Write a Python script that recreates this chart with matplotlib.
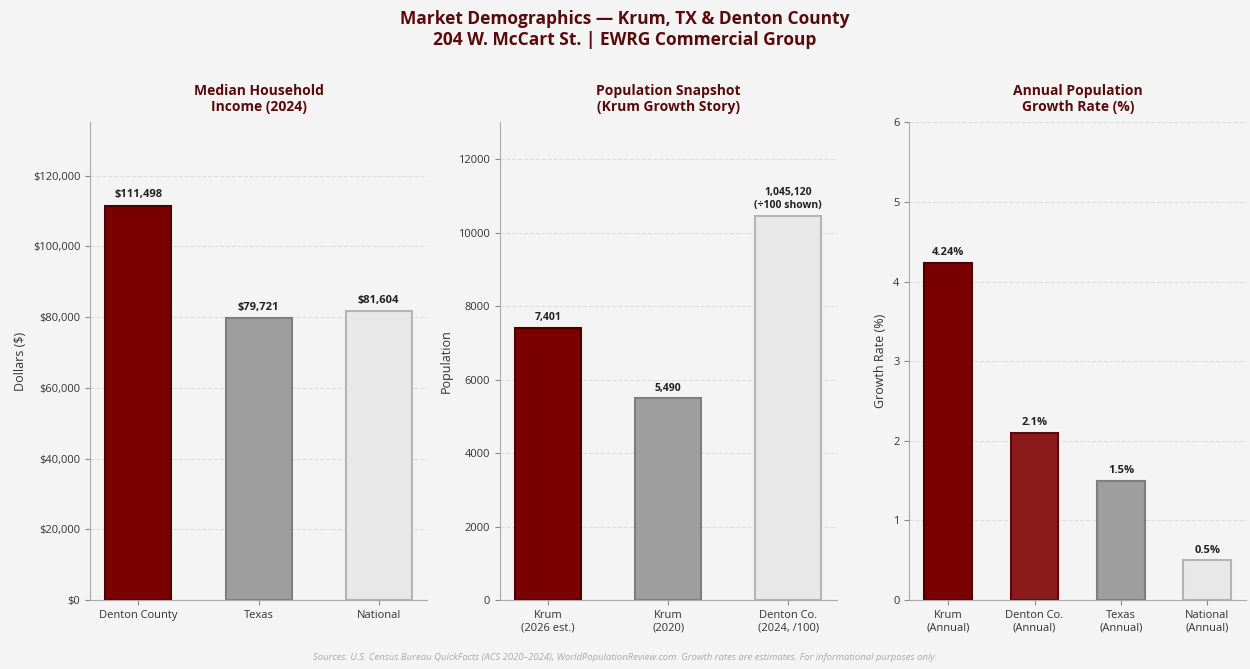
import matplotlib.pyplot as plt
from matplotlib.ticker import FuncFormatter

plt.rcParams["font.family"] = ["Open Sans", "DejaVu Sans"]

BG = "#f4f4f4"
MAROON = "#7a0000"
TITLE_COLOR = "#5a0a0a"

# Panel 1: median household income
income_labels = ["Denton County", "Texas", "National"]
income_values = [111498, 79721, 81604]

# Panel 2: population snapshot (Denton shown /100)
pop_labels = ["Krum\n(2026 est.)", "Krum\n(2020)", "Denton Co.\n(2024, /100)"]
pop_actual = [7401, 5490, 1045120]
pop_divisor = [1, 1, 100]

# Panel 3: annual growth rate
growth_labels = ["Krum\n(Annual)", "Denton Co.\n(Annual)", "Texas\n(Annual)", "National\n(Annual)"]
growth_values = [4.24, 2.1, 1.5, 0.5]
growth_text = ["4.24%", "2.1%", "1.5%", "0.5%"]

FILL3 = [MAROON, "#9e9e9e", "#e8e8e8"]
EDGE3 = ["#4a0000", "#7e7e7e", "#b4b4b4"]
FILL4 = [MAROON, "#8b1a1a", "#9e9e9e", "#e8e8e8"]
EDGE4 = ["#4a0000", "#5a0a0a", "#7e7e7e", "#b4b4b4"]


def style_axis(ax, title, ylabel):
    ax.set_facecolor(BG)
    ax.set_title(title, fontsize=10, fontweight="bold", color=TITLE_COLOR, pad=8)
    ax.set_ylabel(ylabel, fontsize=9, color="#333333")
    for side in ("top", "right"):
        ax.spines[side].set_visible(False)
    for side in ("left", "bottom"):
        ax.spines[side].set_color("#aaaaaa")
    ax.tick_params(axis="both", labelsize=8, colors="#333333")
    ax.tick_params(axis="both", color="#888888")
    ax.yaxis.grid(True, linestyle="--", color="#dddddd", linewidth=0.8)
    ax.set_axisbelow(True)


fig, axes = plt.subplots(1, 3, figsize=(12.5, 6.69), dpi=100)
fig.patch.set_facecolor(BG)
fig.subplots_adjust(left=0.072, right=0.997, top=0.817, bottom=0.103, wspace=0.215)

# --- income ---
ax = axes[0]
x = range(len(income_values))
ax.bar(x, income_values, width=0.55, color=FILL3, edgecolor=EDGE3, linewidth=1.5)
for i, v in enumerate(income_values):
    ax.text(i, v + 1500, f"${v:,}", ha="center", va="bottom",
            fontsize=8, fontweight="bold", color="#222222")
ax.set_xticks(list(x))
ax.set_xticklabels(income_labels)
ax.set_ylim(0, 135000)
ax.yaxis.set_major_formatter(FuncFormatter(lambda y, _: f"${y:,.0f}"))
style_axis(ax, "Median Household\nIncome (2024)", "Dollars ($)")

# --- population ---
ax = axes[1]
pop_shown = [a / d for a, d in zip(pop_actual, pop_divisor)]
x = range(len(pop_shown))
ax.bar(x, pop_shown, width=0.55, color=FILL3, edgecolor=EDGE3, linewidth=1.5)
for i, (v, a, d) in enumerate(zip(pop_shown, pop_actual, pop_divisor)):
    txt = f"{a:,}" if d == 1 else f"{a:,}\n(÷{d} shown)"
    ax.text(i, v + 130, txt, ha="center", va="bottom", fontsize=7.5,
            fontweight="bold", color="#222222", linespacing=1.3)
ax.set_xticks(list(x))
ax.set_xticklabels(pop_labels)
ax.set_ylim(0, 13000)
style_axis(ax, "Population Snapshot\n(Krum Growth Story)", "Population")

# --- growth ---
ax = axes[2]
x = range(len(growth_values))
ax.bar(x, growth_values, width=0.55, color=FILL4, edgecolor=EDGE4, linewidth=1.5)
for i, (v, t) in enumerate(zip(growth_values, growth_text)):
    ax.text(i, v + 0.06, t, ha="center", va="bottom",
            fontsize=8, fontweight="bold", color="#222222")
ax.set_xticks(list(x))
ax.set_xticklabels(growth_labels)
ax.set_ylim(0, 6)
style_axis(ax, "Annual Population\nGrowth Rate (%)", "Growth Rate (%)")

fig.suptitle("Market Demographics — Krum, TX & Denton County\n"
             "204 W. McCart St. | EWRG Commercial Group",
             fontsize=12.5, fontweight="bold", color=TITLE_COLOR, y=0.985)
fig.text(0.5, 0.013,
         "Sources: U.S. Census Bureau QuickFacts (ACS 2020–2024), WorldPopulationReview.com. "
         "Growth rates are estimates. For informational purposes only.",
         ha="center", fontsize=6.8, style="italic", color="#aaaaaa")

fig.savefig("out.png", dpi=100, facecolor=BG)
